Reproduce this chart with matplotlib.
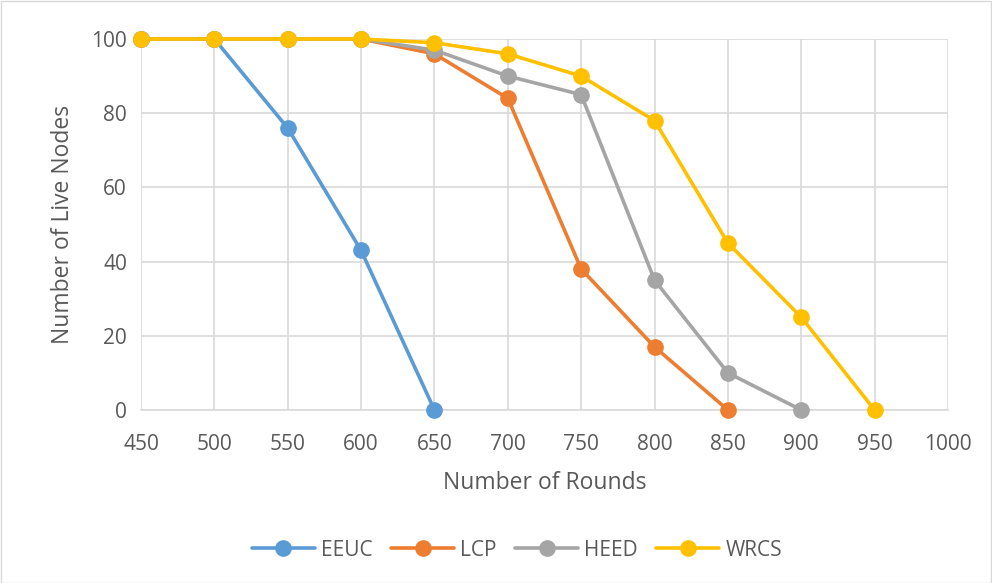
import matplotlib
matplotlib.use("Agg")
import matplotlib.pyplot as plt
from matplotlib.patches import Rectangle

plt.rcParams['font.family'] = ['Open Sans', 'DejaVu Sans']

rounds_eeuc = [450, 500, 550, 600, 650]
eeuc = [100, 100, 76, 43, 0]
rounds_lcp = [450, 500, 550, 600, 650, 700, 750, 800, 850]
lcp = [100, 100, 100, 100, 96, 84, 38, 17, 0]
rounds_heed = [450, 500, 550, 600, 650, 700, 750, 800, 850, 900]
heed = [100, 100, 100, 100, 97, 90, 85, 35, 10, 0]
rounds_wrcs = [450, 500, 550, 600, 650, 700, 750, 800, 850, 900, 950]
wrcs = [100, 100, 100, 100, 99, 96, 90, 78, 45, 25, 0]

series = [
    ("EEUC", rounds_eeuc, eeuc, "#5B9BD5"),
    ("LCP", rounds_lcp, lcp, "#ED7D31"),
    ("HEED", rounds_heed, heed, "#A5A5A5"),
    ("WRCS", rounds_wrcs, wrcs, "#FFC000"),
]

fig = plt.figure(figsize=(9.92, 5.83), dpi=100)
ax = fig.add_axes([141/992, (583-410)/583, (948-141)/992, (410-39)/583])

for name, x, y, c in series:
    ax.plot(x, y, color=c, lw=2.6, marker='o', markersize=11, label=name,
            solid_capstyle='round', zorder=3, clip_on=False)

ax.set_xlim(450, 1000)
ax.set_ylim(0, 100)
ax.set_xticks(range(450, 1001, 50))
ax.set_yticks(range(0, 101, 20))
ax.grid(True, color='#D9D9D9', lw=1.2)
ax.set_axisbelow(True)
for s in ['top', 'right', 'left']:
    ax.spines[s].set_visible(False)
ax.spines['bottom'].set_color('#D9D9D9')
ax.spines['bottom'].set_linewidth(1.2)
ax.tick_params(length=0, labelsize=15, colors='#595959')
ax.tick_params(axis='x', pad=17)
ax.tick_params(axis='y', pad=10)
ax.set_xlabel("Number of Rounds", fontsize=16.5, color='#595959', labelpad=12)
ax.set_ylabel("Number of Live Nodes", fontsize=16.5, color='#595959', labelpad=12)

leg = fig.legend(loc='center', bbox_to_anchor=(517/992, 1-550/583), ncol=4,
                 frameon=False, fontsize=15, labelcolor='#595959',
                 handlelength=3.0, columnspacing=0.9, handletextpad=0.3)

fig.patches.append(Rectangle((0.5/992, 0.5/583), 1-1.5/992, 1-1.5/583,
                             transform=fig.transFigure, fill=False,
                             edgecolor='#D9D9D9', lw=1))

fig.savefig("out.png", dpi=100)
